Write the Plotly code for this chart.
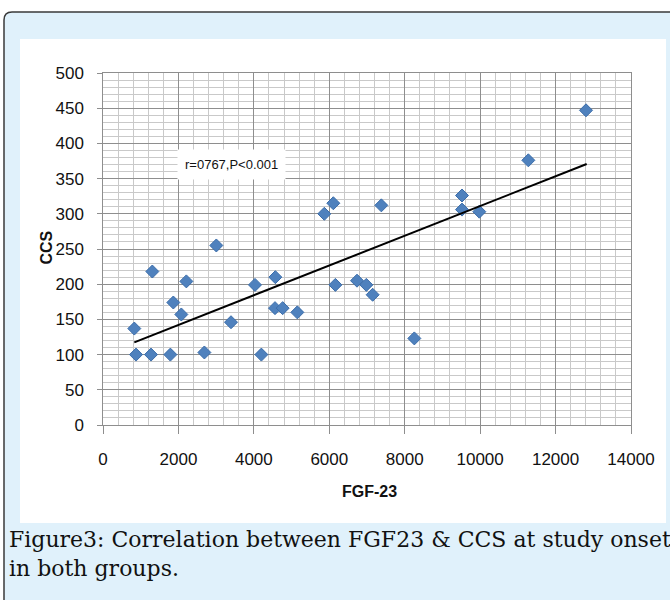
import plotly.graph_objects as go

# ---- data ----
fgf23 = [830, 875, 1273, 1308, 1786, 1865, 2077, 2210, 2688, 3005, 3394, 4030, 4199,
         4570, 4561, 4764, 5153, 5868, 6107, 6161, 6735, 6982, 7150, 7380, 8255,
         9519, 9519, 9978, 11278, 12807]
ccs = [137, 100, 100, 218, 100, 174, 157, 204, 103, 255, 146, 199, 100,
       210, 166, 166, 160, 300, 315, 199, 205, 199, 185, 312, 123,
       326, 306, 303, 376, 447]
trend_x = [830, 12825]
trend_y = [117.4, 370.7]

x_ticks = [0, 2000, 4000, 6000, 8000, 10000, 12000, 14000]
y_ticks = [0, 50, 100, 150, 200, 250, 300, 350, 400, 450, 500]
x_ticktext = [str(v) for v in x_ticks]
y_ticktext = [str(v) + "\u2007" for v in y_ticks]

annot_text = "r=0767,P<0.001"
x_title = "FGF-23"
y_title = "CCS"
caption = "Figure3: Correlation between FGF23 & CCS at study onset<br>in both groups."

# ---- geometry (pixels) ----
W, H = 670, 600
L, R, T, B = 103, 631, 73, 425
pw, ph = R - L, B - T


def px(x):
    return (x - L) / pw


def py(y):
    return (B - y) / ph


TICKFONT = dict(family="Liberation Sans, Arial", size=17, color="#111111")
MAJOR = "#8E8E8E"
MINOR = "#C9C9C9"
BLUE_BG = "#E0F1FB"

fig = go.Figure()
fig.add_trace(go.Scatter(
    x=fgf23, y=ccs, mode="markers",
    marker=dict(symbol="diamond", size=10, color="#4F81BD",
                line=dict(color="#3B6DAA", width=1)),
    showlegend=False, hoverinfo="x+y"))
fig.add_trace(go.Scatter(
    x=trend_x, y=trend_y, mode="lines",
    line=dict(color="black", width=2), showlegend=False, hoverinfo="skip"))

# rounded outer frame
x0, y0 = px(4), py(12)
rx, ry = 8 / pw, 8 / ph
fig.add_shape(type="path", xref="paper", yref="paper", layer="below",
              path=(f"M {x0},{py(640)} L {x0},{y0 - ry} "
                    f"Q {x0},{y0} {x0 + rx},{y0} L {px(700)},{y0} "
                    f"L {px(700)},{py(640)} Z"),
              fillcolor=BLUE_BG, line=dict(color="#3a3a3a", width=1.5))
fig.add_shape(type="rect", xref="paper", yref="paper", layer="below",
              x0=px(20), x1=px(666), y0=py(523), y1=py(39),
              fillcolor="white", line=dict(width=0))

fig.add_annotation(x=3420, y=370, xref="x", yref="y", text=annot_text, showarrow=False,
                   font=dict(family="Liberation Sans, Arial", size=13, color="#111"),
                   bgcolor="white", borderpad=7)
fig.add_annotation(x=px(35), y=py(248), xref="paper", yref="paper", text=f"<b>{y_title}</b>",
                   showarrow=False, textangle=-90,
                   font=dict(family="Liberation Sans, Arial", size=16, color="#111"))
fig.add_annotation(x=px(369), y=py(502), xref="paper", yref="paper", text=f"<b>{x_title}</b>",
                   showarrow=False,
                   font=dict(family="Liberation Sans, Arial", size=16, color="#111"))
fig.add_annotation(x=px(7), y=py(525), xref="paper", yref="paper", text=caption,
                   showarrow=False, xanchor="left", yanchor="top", align="left",
                   font=dict(family="DejaVu Serif, serif", size=22, color="#111"))

fig.update_xaxes(range=[0, 14000], tickvals=x_ticks, ticktext=x_ticktext,
                 showgrid=True, gridcolor=MAJOR, gridwidth=1.3, zeroline=False,
                 showline=True, linecolor=MAJOR, linewidth=1.3, mirror=True,
                 ticks="outside", ticklen=8, tickcolor=MAJOR, tickfont=TICKFONT,
                 ticklabelstandoff=10,
                 minor=dict(dtick=400, tick0=0, showgrid=True, gridcolor=MINOR, gridwidth=1))
fig.update_yaxes(range=[0, 500], tickvals=y_ticks, ticktext=y_ticktext,
                 showgrid=True, gridcolor=MAJOR, gridwidth=1.3, zeroline=False,
                 showline=True, linecolor=MAJOR, linewidth=1.3, mirror=True,
                 ticks="outside", ticklen=5, tickcolor=MAJOR, tickfont=TICKFONT,
                 minor=dict(dtick=10, tick0=0, showgrid=True, gridcolor=MINOR, gridwidth=1))

fig.update_layout(width=W, height=H, autosize=False,
                  margin=dict(l=L, r=W - R, t=T, b=H - B),
                  paper_bgcolor="white", plot_bgcolor="white", showlegend=False)

fig.write_html("out.html", config={"displayModeBar": False},
               post_script="document.body.style.margin='0px';")
